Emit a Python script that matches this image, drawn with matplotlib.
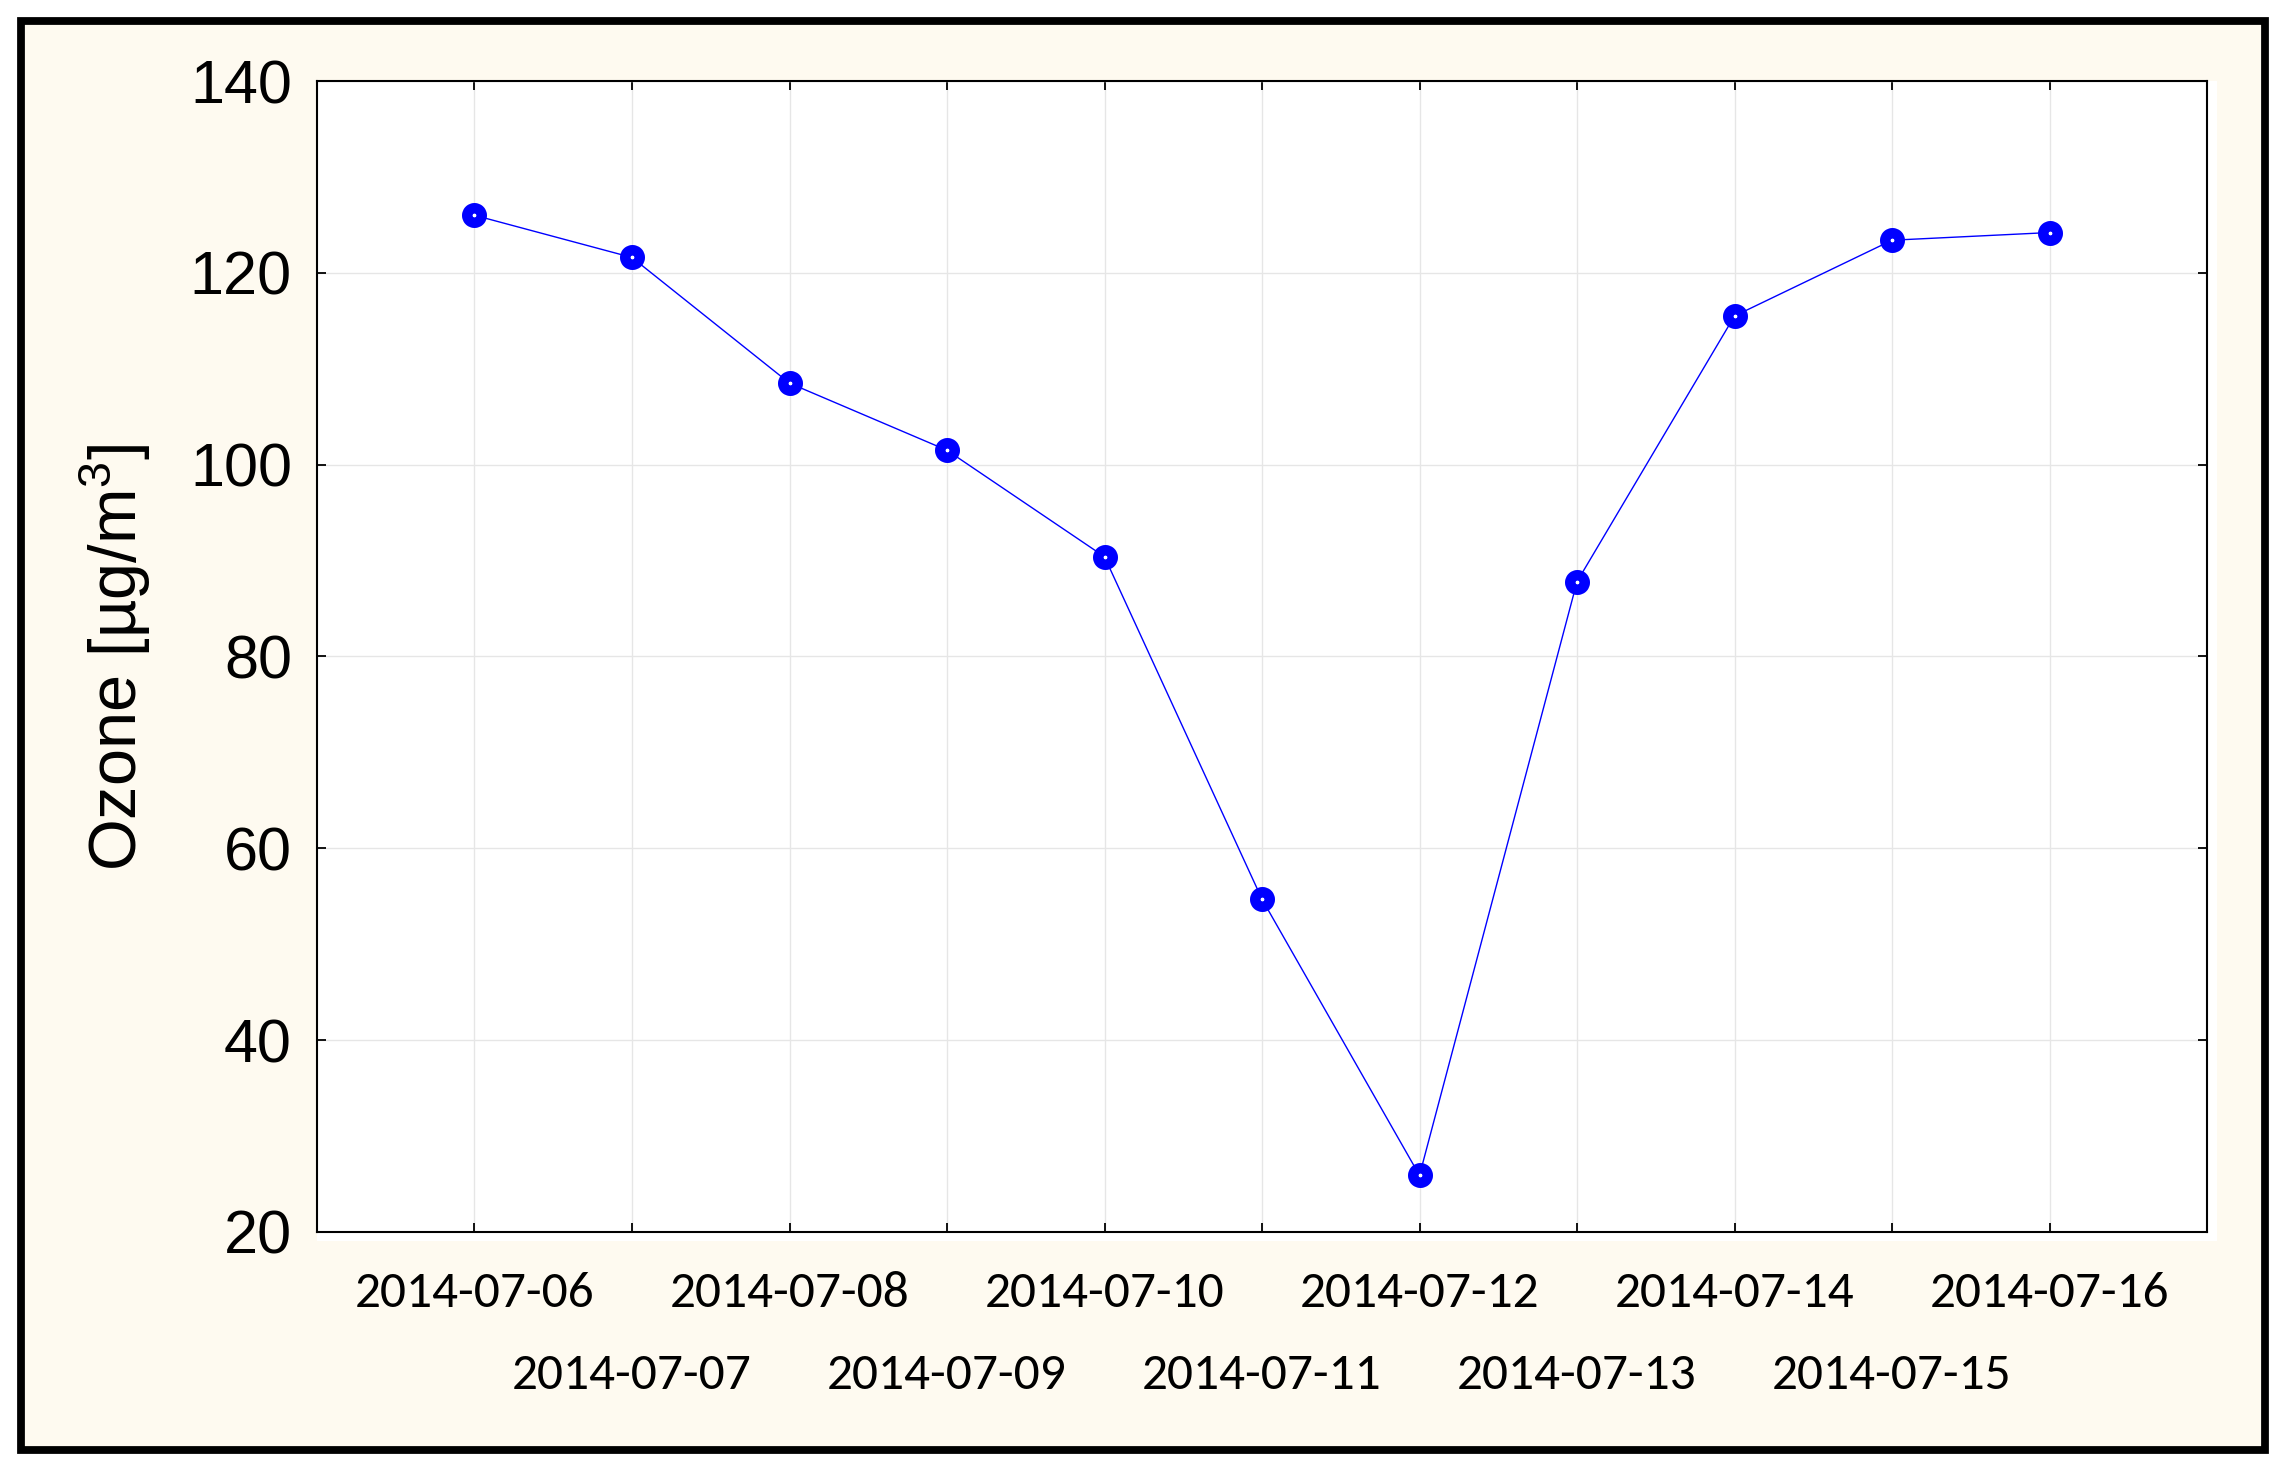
import matplotlib.pyplot as plt
from matplotlib.patches import Rectangle
from matplotlib.ticker import FixedLocator, FixedFormatter

# data
dates = ['2014-07-06', '2014-07-07', '2014-07-08', '2014-07-09', '2014-07-10', '2014-07-11',
         '2014-07-12', '2014-07-13', '2014-07-14', '2014-07-15', '2014-07-16']
ozone = [126.0, 121.6, 108.5, 101.5, 90.4, 54.7, 25.9, 87.8, 115.5, 123.4, 124.2]
y_ticks = [20, 40, 60, 80, 100, 120, 140]

plt.rcParams['mathtext.fontset'] = 'custom'
plt.rcParams['mathtext.rm'] = 'Liberation Sans'
plt.rcParams['mathtext.it'] = 'Liberation Sans'

W, H = 2291, 1468
fig = plt.figure(figsize=(W / 100, H / 100), dpi=100, facecolor='white')

# cream panel with thick black frame
fig.patches.append(Rectangle((20.5 / W, 1 - 1450 / H), (2264.5 - 20.5) / W, (1450 - 20.5) / H,
                             transform=fig.transFigure, facecolor='#fefaf0', edgecolor='black',
                             linewidth=5.6, zorder=-3))
# small white margin under/right of the plot area
fig.patches.append(Rectangle((317 / W, 1 - 1241 / H), (2217 - 317) / W, (1241 - 81) / H,
                             transform=fig.transFigure, facecolor='white', edgecolor='none', zorder=-2))

ax = fig.add_axes([317 / W, 1 - 1232 / H, (2207 - 317) / W, (1232 - 81) / H])
ax.set_facecolor('white')

x = list(range(len(dates)))
ax.plot(x, ozone, color='#0000ff', linewidth=1.0, marker='o', markersize=10.5,
        markerfacecolor='white', markeredgecolor='#0000ff', markeredgewidth=7.5, zorder=3)

ax.set_xlim(-1, len(dates))
ax.set_ylim(20, 140)

# alternate date labels on two rows
ax.xaxis.set_major_locator(FixedLocator(x[0::2]))
ax.xaxis.set_major_formatter(FixedFormatter(dates[0::2]))
ax.xaxis.set_minor_locator(FixedLocator(x[1::2]))
ax.xaxis.set_minor_formatter(FixedFormatter(dates[1::2]))
ax.set_yticks(y_ticks)

xfont = ['Carlito', 'Liberation Sans Narrow', 'DejaVu Sans']
ax.tick_params(axis='x', which='major', direction='in', length=6.5, width=1.3, top=True, pad=28,
               labelsize=37)
ax.tick_params(axis='x', which='minor', direction='in', length=6.5, width=1.3, top=True, pad=87,
               labelsize=37)
ax.tick_params(axis='y', direction='in', length=6.5, width=1.3, right=True, pad=18, labelsize=44)
for lab in ax.get_xticklabels(which='both'):
    lab.set_family(xfont)
for lab in ax.get_yticklabels():
    lab.set_family('Liberation Sans')

ax.grid(True, which='both', color='#e6e6e6', linewidth=1.0)
ax.set_axisbelow(True)
for s in ax.spines.values():
    s.set_linewidth(1.5)

fig.text(115 / W, 1 - 658 / H, r'Ozone [µg/m$^{3}$]', rotation=90, ha='center', va='center',
         fontsize=48, family='Liberation Sans')

plt.savefig('out.png', dpi=100)
